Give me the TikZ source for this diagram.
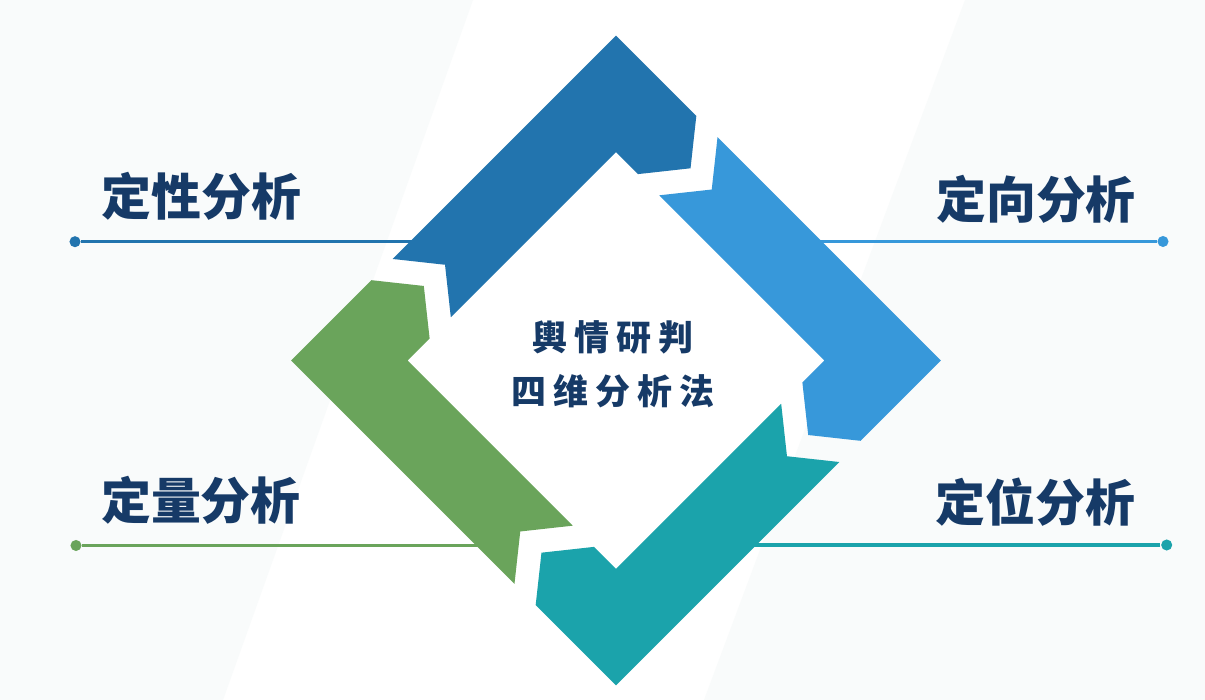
\documentclass[tikz,border=0pt]{standalone}
\usepackage{fontspec}
\usepackage{tikz}
\usetikzlibrary{positioning, calc}
\newfontfamily\cjk{Noto Sans CJK SC}

\definecolor{qualblue}{HTML}{2274AE}
\definecolor{dirblue}{HTML}{3798DA}
\definecolor{posteal}{HTML}{1BA3AB}
\definecolor{quantgreen}{HTML}{6AA45B}
\definecolor{navy}{HTML}{163A67}
\definecolor{haze}{HTML}{F9FBFB}

\begin{document}
\begin{tikzpicture}[x=0.02cm, y=0.02cm, thick]
        % Define block styles
        \tikzstyle{labeltext} = [font=\cjk\bfseries\fontsize{28.4}{34}\selectfont, text=navy, inner sep=0pt]
        \tikzstyle{dotmark} = [circle, inner sep=0pt, minimum size=6.3pt]
        \tikzstyle{linkline} = [line width=1.9pt]

        % Background
        \useasboundingbox (0,0) rectangle (1205,700);
        \fill[white] (0,0) rectangle (1205,700);
        \fill[haze] (0,0) -- (0,700) -- (473,700) -- (223,0) -- cycle;
        \fill[haze] (1205,0) -- (1205,700) -- (965,700) -- (704,0) -- cycle;

        % Place dots and line ends
        \node [dotmark, fill=qualblue] (qualDot) at (75,458.3) {};
        \node [dotmark, fill=dirblue] (dirDot) at (1163,458.5) {};
        \node [dotmark, fill=quantgreen] (quantDot) at (76,154.5) {};
        \node [dotmark, fill=posteal] (posDot) at (1166.7,155) {};
        \coordinate (qualEnd) at (440,458.3);
        \coordinate (dirEnd) at (790,458.5);
        \coordinate (quantEnd) at (490,154.5);
        \coordinate (posEnd) at (730,155);

        % Draw lines under the diamond
        \draw [linkline, qualblue] (qualDot) -- (qualEnd);
        \draw [linkline, dirblue] (dirDot) -- (dirEnd);
        \draw [linkline, quantgreen] (quantDot) -- (quantEnd);
        \draw [linkline, posteal] (posDot) -- (posEnd);

        % Four chevrons round the diamond
        \begin{scope}[shift={(616,339.5)}, rotate=45]
            \fill [qualblue] (229.8,229.8) -- (-86.2,229.8) -- (-53.2,188.6) -- (-86.2,147.4) -- (147.4,147.4) -- (147.4,116.2) -- (188.6,83.2) -- (229.8,116.2) -- cycle;
            \fill [dirblue, rotate=-90] (229.8,229.8) -- (-86.2,229.8) -- (-53.2,188.6) -- (-86.2,147.4) -- (147.4,147.4) -- (147.4,116.2) -- (188.6,83.2) -- (229.8,116.2) -- cycle;
            \fill [posteal, rotate=-180] (229.8,229.8) -- (-86.2,229.8) -- (-53.2,188.6) -- (-86.2,147.4) -- (147.4,147.4) -- (147.4,116.2) -- (188.6,83.2) -- (229.8,116.2) -- cycle;
            \fill [quantgreen, rotate=-270] (229.8,229.8) -- (-86.2,229.8) -- (-53.2,188.6) -- (-86.2,147.4) -- (147.4,147.4) -- (147.4,116.2) -- (188.6,83.2) -- (229.8,116.2) -- cycle;
        \end{scope}

        % Add the labels
        \node [labeltext] (qual) at (201.5,503.5) {定性分析};
        \node [labeltext] (dir) at (1036,501) {定向分析};
        \node [labeltext] (quant) at (201,200) {定量分析};
        \node [labeltext] (pos) at (1035.5,197.5) {定位分析};

        % Title in the middle
        \node [align=center, inner sep=0pt, text=navy, font=\cjk\bfseries\fontsize{19.9}{30.4}\selectfont] (core) at (612.5,335.8) {輿\kern4pt 情\kern4pt 研\kern4pt 判\\四\kern4pt 维\kern4pt 分\kern4pt 析\kern4pt 法};
\end{tikzpicture}
\end{document}
